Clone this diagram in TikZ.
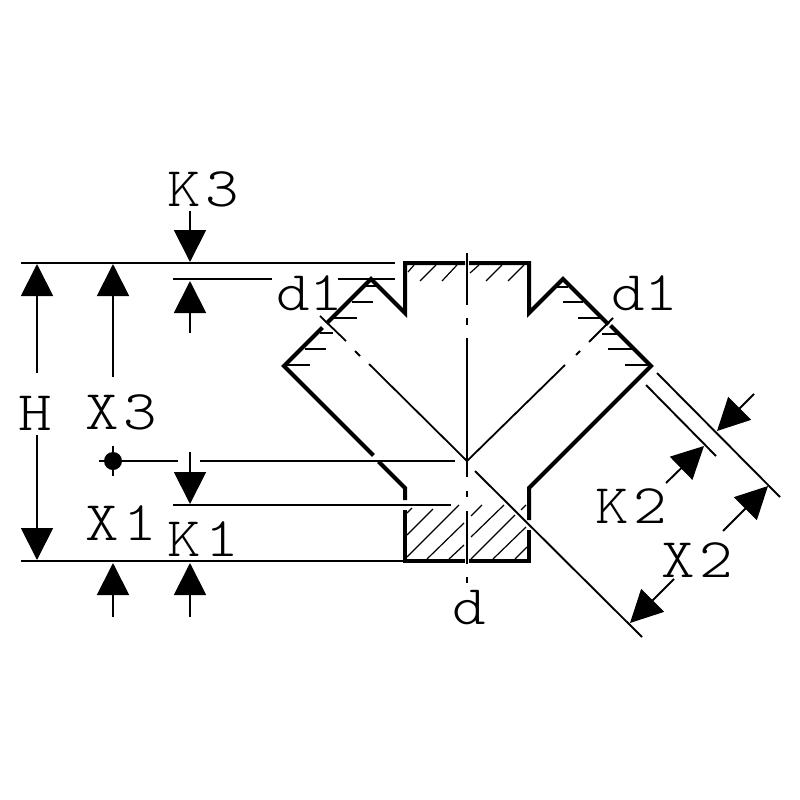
\documentclass[tikz,border=0pt]{standalone}
\usepackage{fontspec}
\setmonofont{Latin Modern Mono Light}
\usetikzlibrary{arrows.meta}
\tikzset{
  x=1pt,y=-1pt,
  outline/.style={line width=4pt,line join=miter,line cap=rect},
  dim/.style={line width=1.9pt},
  hatch/.style={line width=1.2pt},
  axis/.style={line width=1.8pt},
  arr/.style={line width=1.9pt,-{Triangle[length=32pt,width=32pt]}},
  lab/.style={font=\fontsize{56}{56}\selectfont\ttfamily,inner sep=0pt,anchor=base west,text=black,xscale=1.14,transform shape},
}
\newcommand{\lgap}{\kern4pt}
\begin{document}
\begin{tikzpicture}
\useasboundingbox (0,0) rectangle (800,800);
% body outline
\draw[outline] (463,263) -- (405,263) -- (405,313) -- (371,279) -- (328,322);
\draw[outline] (471,263) -- (529,263) -- (529,313) -- (563,279) -- (607,323);
\draw[outline] (321,329) -- (284,366) -- (372,454);
\draw[outline] (612,327) -- (651,366) -- (529,488) -- (529,518);
\draw[outline] (380,463) -- (405,488) -- (405,498);
\draw[outline] (405,512) -- (405,561) -- (463,561);
\draw[outline] (471,561) -- (529,561) -- (529,532);
% dimension lines
\draw[dim] (21,263) -- (395,263);
\draw[dim] (173,279) -- (272,279);
\draw[dim] (338,279) -- (395,279);
\draw[dim] (99,461) -- (178,461);
\draw[dim] (200,461) -- (455,461);
\draw[dim] (173,505) -- (451,505);
\draw[dim] (21,561) -- (405,561);
\fill (113,461) circle (9);
\draw[dim] (113,446) -- (113,476);
% arrows
\draw[arr] (37,373) -- (37,264);
\draw[arr] (37,435) -- (37,560);
\draw[arr] (113,377) -- (113,264);
\draw[arr] (190,211) -- (190,262);
\draw[arr] (190,333) -- (190,281);
\draw[arr] (190,452) -- (190,504);
\draw[arr] (113,617) -- (113,563);
\draw[arr] (190,617) -- (190,563);
\draw[arr] (754,394) -- (717,431);
\draw[arr] (666,483) -- (704,446);
\draw[arr] (723,531) -- (768,486);
\draw[arr] (674,579) -- (630,623);
% oblique witness lines
\draw[dim] (657,373) -- (780,497);
\draw[dim] (646,385) -- (716,456);
\draw[dim] (475,471) -- (642,637);
% axes
\draw[axis] (467,253) -- (467,305);
\draw[axis] (467,318) -- (467,325);
\draw[axis] (467,338) -- (467,477);
\draw[axis] (467,491) -- (467,497);
\draw[axis] (467,511) -- (467,564);
\draw[axis] (467,577) -- (467,583);
\draw[axis] (320,316) -- (346,341);
\draw[axis] (355,351) -- (360,356);
\draw[axis] (369,364) -- (467,461);
\draw[axis] (613,318) -- (589,342);
\draw[axis] (580,351) -- (576,355);
\draw[axis] (565,365) -- (467,461);
% hatching
\foreach \a/\b/\c/\d in {
352/302/373/302, 332/318/357/318, 320/333/333/333, 305/349/326/349, 284/365/310/365, 365/286/379/286,
557/287/568/287, 563/302/583/302, 578/318/603/318, 602/334/617/334, 608/349/632/349, 625/365/652/365,
408/272/414/265, 420/281/436/265, 442/281/457/265, 470/273/479/265, 486/281/502/265, 508/281/524/265,
407/513/412/508, 407/535/433/509, 407/557/459/505, 427/559/464/523, 449/559/464/545,
471/516/482/505, 471/537/504/505, 471/559/515/515, 521/510/526/505, 493/559/526/527, 515/559/527/547}
  \draw[hatch] (\a,\b) -- (\c,\d);
% labels
\node[lab] (k3) at (167,206) {K\lgap 3};
\node[lab] (h) at (18,430) {H};
\node[lab] (x3) at (85,429) {X\lgap 3};
\node[lab] (x1) at (85,540) {X\lgap 1};
\node[lab] (k1) at (167,556) {K\lgap 1};
\node[lab] (d) at (452,624) {d};
\node[lab] (dl) at (276,310) {d1};
\node[lab] (dr) at (611,310) {d1};
\node[lab] (k2) at (595,523) {K\lgap 2};
\node[lab] (x2) at (661,577) {X\lgap 2};
\end{tikzpicture}
\end{document}
